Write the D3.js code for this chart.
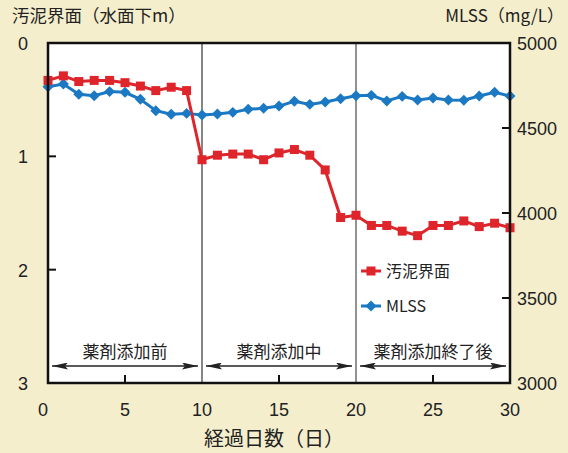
<!DOCTYPE html>
<html><head><meta charset="utf-8">
<script src="https://cdn.jsdelivr.net/npm/d3@7"></script>
<style>
html,body{margin:0;padding:0;background:#f4eecd;}
svg{display:block;font-family:"Noto Sans CJK JP","Noto Sans",sans-serif;}
.num{font-family:"Liberation Sans",Arial,sans-serif;}
</style></head>
<body>
<svg id="c" width="568" height="453"></svg>
<script>
const days = d3.range(0, 31);
const sludgeDepth = [0.33,0.29,0.34,0.33,0.33,0.35,0.38,0.42,0.39,0.42,
  1.03,0.99,0.98,0.98,1.03,0.97,0.94,0.99,1.12,1.54,
  1.52,1.61,1.61,1.66,1.70,1.61,1.61,1.57,1.62,1.59,1.63];
const mlss = [4743,4759,4698,4690,4714,4710,4669,4602,4581,4586,
  4576,4582,4592,4610,4616,4629,4657,4639,4653,4672,
  4690,4692,4659,4686,4665,4676,4665,4663,4688,4710,4688];
const xTicks = [0,5,10,15,20,25,30];
const leftTicks = [0,1,2,3];
const rightTicks = [3000,3500,4000,4500,5000];
const phases = [{label:"薬剤添加前",from:0,to:10},{label:"薬剤添加中",from:10,to:20},{label:"薬剤添加終了後",from:20,to:30}];
const seriesNames = ["汚泥界面","MLSS"];
const colors = {red:"#de252b", blue:"#1b79c3"};

const svg = d3.select("#c");
const L=48,R=510,T=43,B=383;
const x = d3.scaleLinear().domain([0,30]).range([L,R]);
const yL = d3.scaleLinear().domain([0,3]).range([T,B]);
const yR = d3.scaleLinear().domain([3000,5000]).range([B,T]);

svg.append("rect").attr("x",L).attr("y",T).attr("width",R-L).attr("height",B-T).attr("fill","#fff");

// phase separators
svg.append("line").attr("x1",x(10)).attr("x2",x(10)).attr("y1",T).attr("y2",B).attr("stroke","#444").attr("stroke-width",1.3);
svg.append("line").attr("x1",x(20)).attr("x2",x(20)).attr("y1",T).attr("y2",B).attr("stroke","#777").attr("stroke-width",1.6);

// ticks inward
const tk = svg.append("g").attr("stroke","#111").attr("stroke-width",2);
[5,15,25].forEach(d=>tk.append("line").attr("x1",x(d)).attr("x2",x(d)).attr("y1",B).attr("y2",B-8));
[1,2].forEach(d=>tk.append("line").attr("x1",L).attr("x2",L+8).attr("y1",yL(d)).attr("y2",yL(d)));
[3500,4000,4500].forEach(d=>tk.append("line").attr("x1",R).attr("x2",R-8).attr("y1",yR(d)).attr("y2",yR(d)));

// phase arrows
const defs = svg.append("defs");
defs.append("marker").attr("id","ah").attr("viewBox","0 0 16 7").attr("refX",16).attr("refY",3.5)
  .attr("markerWidth",16).attr("markerHeight",7).attr("markerUnits","userSpaceOnUse").attr("orient","auto-start-reverse")
  .append("path").attr("d","M0,0 L16,3.5 L0,7 L3,3.5 Z").attr("fill","#222");
phases.forEach(p=>{
  svg.append("line").attr("x1",x(p.from)+4).attr("x2",x(p.to)-4).attr("y1",366).attr("y2",366)
    .attr("stroke","#222").attr("stroke-width",1.6)
    .attr("marker-start","url(#ah)").attr("marker-end","url(#ah)");
  svg.append("text").attr("x",(x(p.from)+x(p.to))/2).attr("y",358).attr("text-anchor","middle")
    .attr("font-size",17).attr("fill","#222").text(p.label);
});

// lines
const lineL = d3.line().x((d,i)=>x(days[i])).y(d=>yL(d));
const lineR = d3.line().x((d,i)=>x(days[i])).y(d=>yR(d));
svg.append("path").datum(mlss).attr("d",lineR).attr("fill","none").attr("stroke",colors.blue).attr("stroke-width",3);
svg.append("path").datum(sludgeDepth).attr("d",lineL).attr("fill","none").attr("stroke",colors.red).attr("stroke-width",3);
svg.append("g").selectAll("path").data(mlss).join("path")
  .attr("d",d3.symbol().type(d3.symbolSquare).size(60)()).attr("transform",(d,i)=>`translate(${x(days[i])},${yR(d)}) rotate(45)`)
  .attr("fill",colors.blue);
svg.append("g").selectAll("rect").data(sludgeDepth).join("rect")
  .attr("x",(d,i)=>x(days[i])-4.5).attr("y",d=>yL(d)-4.5).attr("width",9).attr("height",9).attr("fill",colors.red);

// border
svg.append("rect").attr("x",L).attr("y",T).attr("width",R-L).attr("height",B-T).attr("fill","none").attr("stroke","#111").attr("stroke-width",2.5);

// legend
const lg = svg.append("g");
lg.append("line").attr("x1",361).attr("x2",381).attr("y1",271).attr("y2",271).attr("stroke",colors.red).attr("stroke-width",3);
lg.append("rect").attr("x",366.5).attr("y",266.5).attr("width",9).attr("height",9).attr("fill",colors.red);
lg.append("text").attr("x",386).attr("y",277).attr("font-size",16).attr("fill","#222").text(seriesNames[0]);
lg.append("line").attr("x1",361).attr("x2",381).attr("y1",306).attr("y2",306).attr("stroke",colors.blue).attr("stroke-width",3);
lg.append("path").attr("d",d3.symbol().type(d3.symbolSquare).size(60)()).attr("transform","translate(371,306) rotate(45)").attr("fill",colors.blue);
lg.append("text").attr("x",386).attr("y",312).attr("font-size",16).attr("fill","#222").text(seriesNames[1]);

// tick labels
const tl = svg.append("g").attr("class","num").attr("font-size",18).attr("fill","#222");
xTicks.forEach(d=>tl.append("text").attr("x",d===0?x(d)-5:x(d)).attr("y",416).attr("text-anchor","middle").text(d));
leftTicks.forEach(d=>tl.append("text").attr("x",23).attr("y",yL(d)+7).attr("text-anchor","middle").text(d));
rightTicks.forEach(d=>tl.append("text").attr("x",517).attr("y",yR(d)+7).text(d));

// axis titles
svg.append("text").attr("x",12).attr("y",22).attr("font-size",17.5).attr("fill","#222").text("汚泥界面（水面下m）");
svg.append("text").attr("x",564).attr("y",22).attr("text-anchor","end").attr("font-size",17).attr("fill","#222").text("MLSS（mg/L）");
svg.append("text").attr("x",274).attr("y",446).attr("text-anchor","middle").attr("font-size",20).attr("fill","#222").text("経過日数（日）");
</script>
</body></html>
